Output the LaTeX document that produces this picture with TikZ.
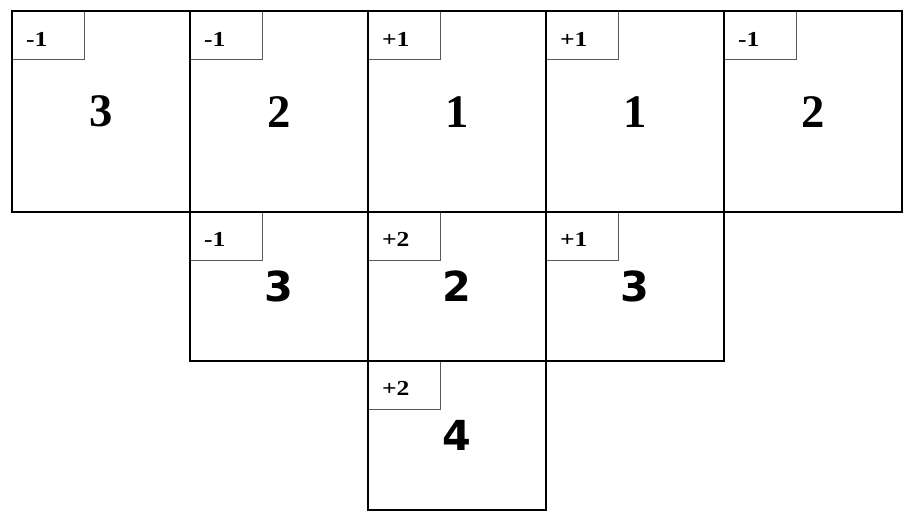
\documentclass[tikz,border=0pt]{standalone}
\usepackage{fontspec}
\usepackage{graphicx}
\setmainfont{Liberation Serif}
\newfontfamily\sansdigits{DejaVu Sans}
\usetikzlibrary{positioning, backgrounds}
\newcommand{\dlabel}[1]{\scalebox{1.2}[1]{#1}}
\tikzstyle{cell} = [rectangle, draw=black, line width=1.5pt, outer sep=0pt, inner sep=0pt, minimum width=133.5pt, text centered]
\tikzstyle{tall} = [cell, minimum height=150.4pt, font=\bfseries\fontsize{35}{35}\selectfont]
\tikzstyle{short} = [cell, minimum height=111.8pt, font=\sansdigits\bfseries\fontsize{31}{31}\selectfont]
\tikzstyle{delta} = [rectangle, draw=black!65, line width=0.75pt, outer sep=0pt, minimum width=54pt, minimum height=36pt, inner xsep=10.5pt, text width=33pt, text height=16.2pt, text depth=0pt, align=left, anchor=north west, font=\bfseries\fontsize{16}{16}\selectfont]

\begin{document}
\begin{tikzpicture}

    \useasboundingbox (-9pt, 8.6pt) rectangle (675.75pt, -382.9pt);

    % first row
    \node (c1) [tall, anchor=north west] at (0, 0) {3};
    \node (c2) [tall, right=0pt of c1] {2};
    \node (c3) [tall, right=0pt of c2] {1};
    \node (c4) [tall, right=0pt of c3] {1};
    \node (c5) [tall, right=0pt of c4] {2};

    % second row
    \node (d1) [short, below=0pt of c2] {3};
    \node (d2) [short, right=0pt of d1] {2};
    \node (d3) [short, right=0pt of d2] {3};

    % third row
    \node (e1) [short, below=0pt of d2] {4};

    \begin{scope}[on background layer]
        \node (c1_delta) [delta] at (c1.north west) {\dlabel{-1}};
        \node (c2_delta) [delta] at (c2.north west) {\dlabel{-1}};
        \node (c3_delta) [delta] at (c3.north west) {\dlabel{+1}};
        \node (c4_delta) [delta] at (c4.north west) {\dlabel{+1}};
        \node (c5_delta) [delta] at (c5.north west) {\dlabel{-1}};
        \node (d1_delta) [delta] at (d1.north west) {\dlabel{-1}};
        \node (d2_delta) [delta] at (d2.north west) {\dlabel{+2}};
        \node (d3_delta) [delta] at (d3.north west) {\dlabel{+1}};
        \node (e1_delta) [delta] at (e1.north west) {\dlabel{+2}};
    \end{scope}

\end{tikzpicture}
\end{document}
